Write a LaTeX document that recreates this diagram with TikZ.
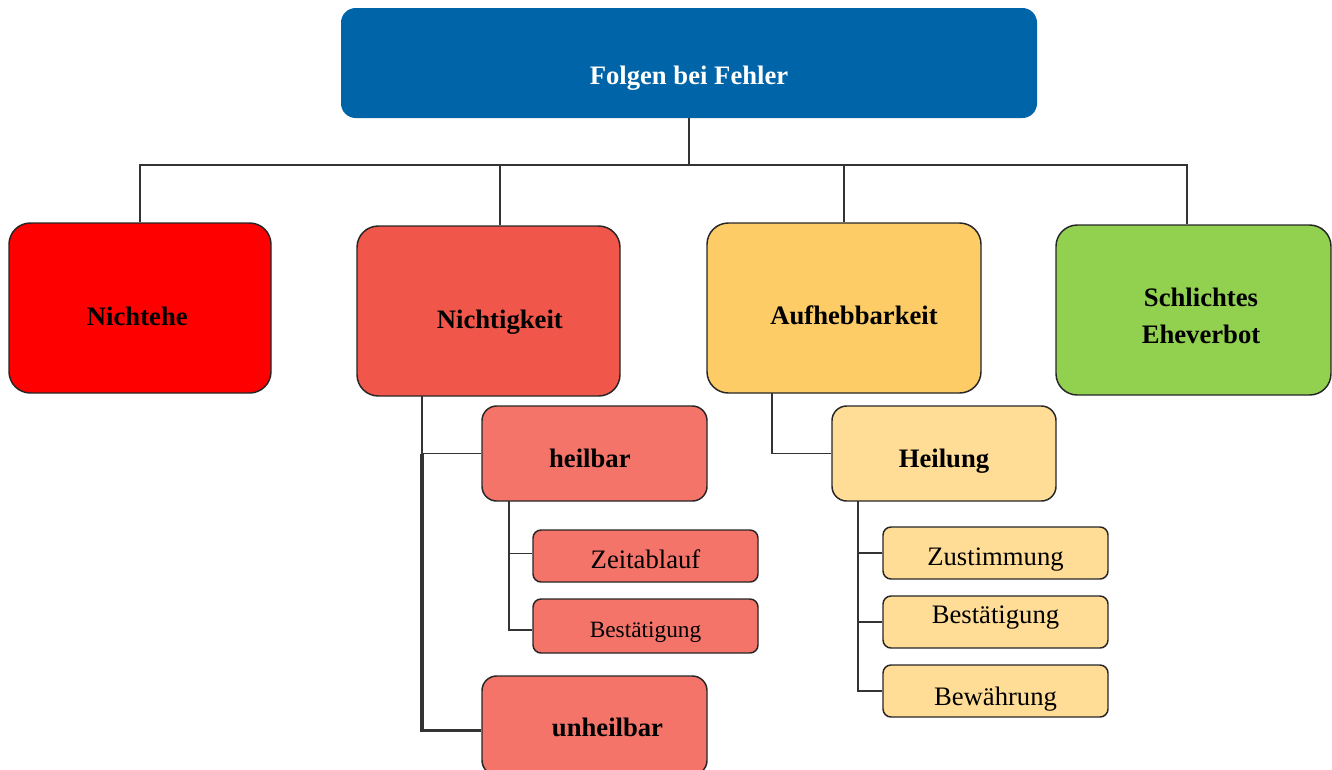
\documentclass[tikz,border=0pt]{standalone}
\usepackage{fontspec}
\setmainfont{Liberation Serif}
\usepackage{tikz}

\definecolor{kopfblau}{RGB}{0,101,168}
\definecolor{rot}{RGB}{255,0,0}
\definecolor{nichtrot}{RGB}{241,86,74}
\definecolor{hellrot}{RGB}{244,116,106}
\definecolor{gelb}{RGB}{253,204,102}
\definecolor{hellgelb}{RGB}{255,221,150}
\definecolor{gruen}{RGB}{146,208,80}

\tikzset{
  grossbox/.style={draw=black!85, line width=1.1pt, rounded corners=16pt,
    minimum height=127.5pt, inner sep=2pt, align=center,
    font=\fontsize{20}{28}\selectfont\bfseries},
  mittelbox/.style={draw=black!85, line width=1.1pt, rounded corners=11pt,
    minimum width=168.75pt, minimum height=71.25pt, inner sep=2pt,
    font=\fontsize{20}{24}\selectfont\bfseries},
  kleinbox/.style={draw=black!85, line width=1.1pt, rounded corners=6pt,
    minimum width=168.75pt, minimum height=39pt, inner sep=2pt,
    font=\fontsize{20}{24}\selectfont},
  senken/.style={text height=#1, text depth=0pt},
  linie/.style={draw=black!80, line width=0.9pt}
}

\begin{document}
\begin{tikzpicture}[x=0.75pt,y=-0.75pt]
\useasboundingbox (0,0) rectangle (1332,769);

\node[fill=kopfblau, rounded corners=11pt, minimum width=522pt, minimum height=82.5pt,
  text=white, font=\fontsize{20}{24}\selectfont\bfseries, senken=32.5pt] (folgen) at (689,63) {Folgen bei Fehler};

\node[grossbox, fill=rot, minimum width=196.5pt, senken=26.5pt] (nichtehe) at (140,308) {Nichtehe\hspace*{4pt}};
\node[grossbox, fill=nichtrot, minimum width=197.25pt, senken=26.5pt] (nichtig) at (488.5,311) {\hspace*{17pt}Nichtigkeit};
\node[grossbox, fill=gelb, minimum width=205.5pt, senken=25pt] (aufheb) at (844,308) {\hspace*{15pt}Aufhebbarkeit};
\node[grossbox, fill=gruen, minimum width=206.25pt] (schlicht) at (1193.5,310) {};
\node[font=\fontsize{20}{28}\selectfont\bfseries, align=center] (schlichttext) at (1201,316) {Schlichtes\\Eheverbot};

\node[mittelbox, fill=hellrot, senken=21.5pt] (heilbar) at (594.5,453.5) {heilbar\hspace*{7pt}};
\node[mittelbox, fill=hellrot, minimum height=74.25pt, senken=16pt] (unheilbar) at (594.5,725.5) {\hspace*{19.5pt}unheilbar};
\node[kleinbox, fill=hellrot, senken=19pt] (zeit) at (645.5,556) {Zeitablauf};
\node[kleinbox, fill=hellrot, minimum height=40.5pt, font=\fontsize{17.5}{21}\selectfont, senken=16.5pt] (best1) at (645.5,626) {Bestätigung};

\node[mittelbox, fill=hellgelb, minimum width=168pt, senken=21.5pt] (heilung) at (944,453.5) {Heilung};
\node[kleinbox, fill=hellgelb, senken=19pt] (zust) at (995.5,553) {Zustimmung};
\node[kleinbox, fill=hellgelb, senken=2.5pt] (best2) at (995.5,622) {Bestätigung};
\node[kleinbox, fill=hellgelb, senken=22pt] (bewaehr) at (995.5,691) {Bewährung};

\coordinate (bus) at (689,165);
\draw[linie] (folgen.south) -- (bus);
\draw[linie] (bus) -| (nichtehe.north);
\draw[linie] (bus) -| ([xshift=8.6pt]nichtig.north);
\draw[linie] (bus) -| (aufheb.north);
\draw[linie] (bus) -| ([xshift=-4.9pt]schlicht.north);

\coordinate (nstamm) at (422,396);
\draw[linie] (nstamm) |- (heilbar.west);
\draw[linie, line width=2.4pt] (nstamm |- heilbar.west) |- ([yshift=-4pt]unheilbar.west);

\coordinate (hstamm) at (509,501);
\draw[linie] (hstamm) |- ([yshift=2pt]zeit.west);
\draw[linie] (hstamm) |- ([yshift=-3pt]best1.west);

\coordinate (astamm) at (772,393);
\draw[linie] (astamm) |- (heilung.west);

\coordinate (gstamm) at (858,501);
\draw[linie] (gstamm) |- (zust.west);
\draw[linie] (gstamm) |- (best2.west);
\draw[linie] (gstamm) |- (bewaehr.west);
\end{tikzpicture}
\end{document}
